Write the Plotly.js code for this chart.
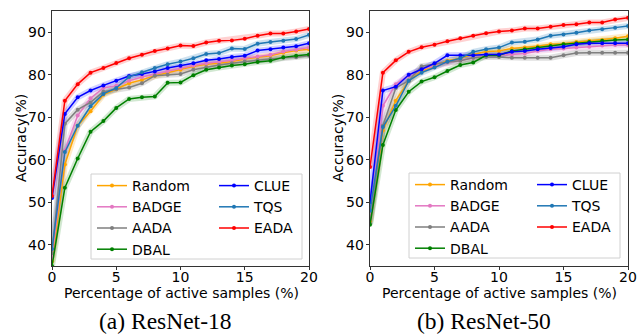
<!DOCTYPE html>
<html>
<head>
<meta charset="utf-8">
<script src="https://cdn.plot.ly/plotly-3.0.1.min.js"></script>
<style>html,body{margin:0;padding:0;background:#fff;}#chart{width:644px;height:335px;}</style>
</head>
<body>
<div id="chart"></div>
<script>
// x: percentage of active samples
const budget = [0,1,2,3,4,5,6,7,8,9,10,11,12,13,14,15,16,17,18,19,20];
const methods = ["Random","BADGE","AADA","DBAL","CLUE","TQS","EADA"];

// (a) ResNet-18
const r18_Random = [36.0,58.9,68.0,71.4,75.3,76.6,78.0,78.8,79.8,80.5,81.2,82.0,82.5,82.7,83.1,83.7,84.1,84.5,85.2,85.7,86.0];
const r18_BADGE  = [37.0,62.2,70.4,74.5,76.9,77.4,78.6,79.5,80.2,80.9,81.6,82.2,82.7,83.0,83.4,83.9,84.3,84.7,85.5,85.9,86.4];
const r18_AADA   = [38.0,68.5,71.8,73.5,76.0,76.6,77.0,78.0,79.8,80.0,80.2,81.2,81.8,82.3,82.7,83.1,83.4,83.7,84.0,84.1,84.5];
const r18_DBAL   = [35.0,53.4,60.3,66.6,69.1,72.2,74.3,74.7,74.9,78.1,78.2,79.9,81.2,81.7,82.2,82.5,83.0,83.3,84.1,84.5,84.8];
const r18_CLUE   = [51.0,70.8,74.7,76.3,77.5,78.6,79.7,80.2,80.8,81.6,82.1,82.7,83.4,83.7,84.2,84.5,85.7,86.0,86.4,86.7,87.4];
const r18_TQS    = [39.0,61.8,68.0,72.6,75.5,76.9,79.5,80.6,81.6,82.5,83.1,83.9,84.9,85.1,86.2,86.1,87.3,87.7,88.0,88.4,89.4];
const r18_EADA   = [51.5,73.9,77.8,80.5,81.6,82.8,83.9,84.7,85.6,86.2,86.9,86.8,87.6,88.0,88.1,88.5,89.2,89.7,89.7,90.2,90.8];

// (b) ResNet-50
const r50_Random = [45.5,66.9,73.9,78.6,80.9,82.1,83.3,83.9,84.8,85.5,85.6,86.2,86.4,86.7,87.2,87.3,87.7,88.0,88.2,88.6,89.1];
const r50_BADGE  = [46.0,72.7,77.8,79.8,81.3,82.1,82.9,83.4,84.0,84.5,84.6,84.8,85.0,85.6,86.0,86.2,86.4,86.6,86.9,87.0,87.0];
const r50_AADA   = [45.0,68.0,76.9,78.6,82.0,82.5,83.0,83.3,84.0,84.2,84.2,84.0,84.0,84.0,84.0,84.6,85.1,85.2,85.2,85.2,85.2];
const r50_DBAL   = [44.7,63.5,71.7,76.0,78.4,79.4,80.9,82.3,82.9,84.6,84.6,85.6,86.0,86.4,86.8,87.2,87.4,87.7,88.0,88.2,88.3];
const r50_CLUE   = [50.0,76.3,77.2,80.0,81.3,82.7,84.6,84.6,84.6,84.8,84.8,85.4,85.6,86.0,86.3,86.6,87.2,87.4,87.4,87.4,87.4];
const r50_TQS    = [48.0,67.7,72.7,78.6,80.5,81.7,83.1,83.9,85.4,86.0,86.4,87.6,87.8,88.3,89.2,89.5,89.9,90.4,90.7,91.1,91.5];
const r50_EADA   = [58.3,80.5,83.4,85.4,86.5,87.1,87.9,88.6,89.2,89.8,90.2,90.4,90.9,90.9,91.3,91.7,91.9,92.3,92.3,93.0,93.4];

const xTicks = [0,5,10,15,20];
const yTicks = [40,50,60,70,80,90];
const captions = ["(a) ResNet-18","(b) ResNet-50"];
const xTitle = "Percentage of active samples (%)";
const yTitle = "Accuracy(%)";

const colors = {Random:"#ffa500", BADGE:"#e377c2", AADA:"#7f7f7f", DBAL:"#008000", CLUE:"#0000ff", TQS:"#1f77b4", EADA:"#ff0000"};
const bandColors = {Random:"rgba(255,165,0,0.22)", BADGE:"rgba(227,119,194,0.22)", AADA:"rgba(127,127,127,0.25)", DBAL:"rgba(0,128,0,0.18)", CLUE:"rgba(0,0,255,0.18)", TQS:"rgba(31,119,180,0.22)", EADA:"rgba(255,0,0,0.18)"};

const data18 = {Random:r18_Random,BADGE:r18_BADGE,AADA:r18_AADA,DBAL:r18_DBAL,CLUE:r18_CLUE,TQS:r18_TQS,EADA:r18_EADA};
const data50 = {Random:r50_Random,BADGE:r50_BADGE,AADA:r50_AADA,DBAL:r50_DBAL,CLUE:r50_CLUE,TQS:r50_TQS,EADA:r50_EADA};
const col1 = ["Random","BADGE","AADA","DBAL"];

const traces = [];
function addPanel(d, xa, ya, legA, legB) {
  methods.forEach(m => {
    traces.push({x:budget, y:d[m], xaxis:xa, yaxis:ya, mode:"lines", type:"scatter",
      line:{color:bandColors[m], width:6}, showlegend:false, hoverinfo:"skip"});
  });
  methods.forEach(m => {
    traces.push({x:budget, y:d[m], xaxis:xa, yaxis:ya, mode:"lines+markers", type:"scatter",
      name:m, line:{color:colors[m], width:1.5}, marker:{color:colors[m], size:4},
      legend: col1.includes(m) ? legA : legB});
  });
}
addPanel(data18, "x", "y", "legend", "legend2");
addPanel(data50, "x2", "y2", "legend3", "legend4");

const font = {family:"DejaVu Sans", size:14, color:"#000"};
function xax(dom) {
  return {domain:dom, range:[0,20], tickvals:xTicks, ticks:"outside", ticklen:3, tickcolor:"#333",
    showline:true, mirror:true, linecolor:"#333", linewidth:1.3, showgrid:false, zeroline:false,
    tickfont:font, ticklabelstandoff:-5};
}
function yax(anchor) {
  return {domain:[0.206,0.967], range:[35,95], tickvals:yTicks, ticks:"outside", ticklen:3, tickcolor:"#333",
    showline:true, mirror:true, linecolor:"#333", linewidth:1.3, showgrid:false, zeroline:false,
    tickfont:font, anchor:anchor, ticklabelstandoff:-1};
}
function leg(xpx, ypx) {
  return {x:xpx/644, y:1-ypx/335, xanchor:"left", yanchor:"top", bgcolor:"rgba(0,0,0,0)",
    font:font, tracegroupgap:0, itemwidth:30};
}
function ann(text, xpx, ypx, f, angle) {
  return {text:text, xref:"paper", yref:"paper", x:xpx/644, y:1-ypx/335, xanchor:"center", yanchor:"middle",
    showarrow:false, font:f, textangle:angle||0};
}
const capFont = {family:"Liberation Serif", size:23.5, color:"#000"};

const layout = {
  width:644, height:335, margin:{l:0,r:0,t:0,b:0}, paper_bgcolor:"#fff", plot_bgcolor:"#fff",
  font:font,
  xaxis:Object.assign(xax([52/644, 309/644]), {anchor:"y"}),
  yaxis:yax("x"),
  xaxis2:Object.assign(xax([370/644, 628/644]), {anchor:"y2"}),
  yaxis2:yax("x2"),
  legend:leg(92,170), legend2:leg(214,170), legend3:leg(410,169), legend4:leg(532,169),
  shapes:[
    {type:"rect", xref:"paper", yref:"paper", x0:91/644, x1:302/644, y0:1-259/335, y1:1-174/335,
     line:{color:"#d0d0d0", width:1}, fillcolor:"rgba(255,255,255,0.8)", layer:"above"},
    {type:"rect", xref:"paper", yref:"paper", x0:409/644, x1:620/644, y0:1-258/335, y1:1-173/335,
     line:{color:"#d0d0d0", width:1}, fillcolor:"rgba(255,255,255,0.8)", layer:"above"}
  ],
  annotations:[
    ann(xTitle, 181, 293, font), ann(xTitle, 499, 293, font),
    ann(yTitle, 21, 138, font, -90), ann(yTitle, 338, 138, font, -90),
    ann(captions[0], 165, 321, capFont), ann(captions[1], 484, 321, capFont)
  ]
};
Plotly.newPlot("chart", traces, layout, {staticPlot:true, displayModeBar:false});
</script>
</body>
</html>
